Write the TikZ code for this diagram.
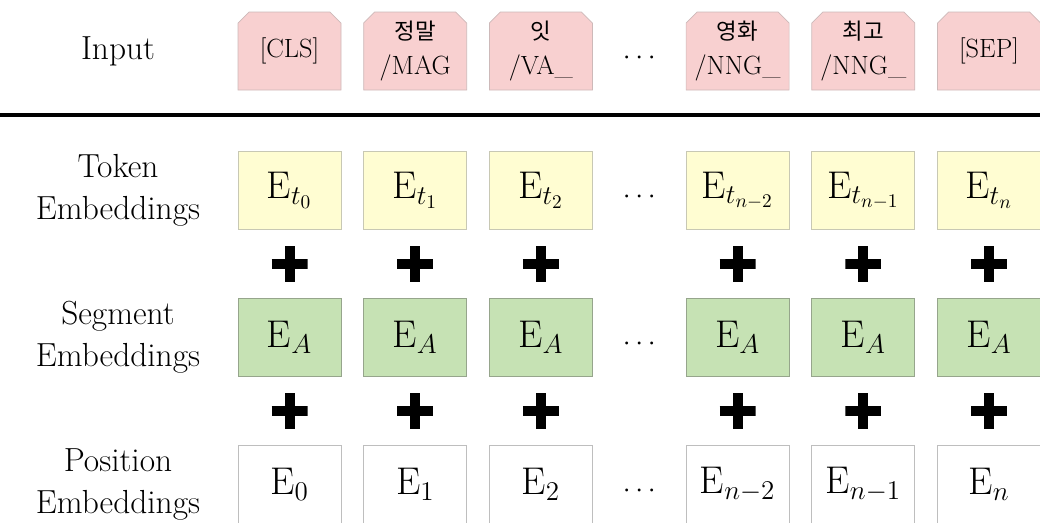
\documentclass[tikz,border=0pt]{standalone}
\usepackage{fix-cm}
\usepackage{fontspec}
\newfontfamily\kr{Noto Sans CJK KR}[Scale=0.85]
\usetikzlibrary{positioning,shapes.misc,calc}

\definecolor{inpink}{RGB}{248,208,208}
\definecolor{inline}{RGB}{205,185,185}
\definecolor{tokfill}{RGB}{255,253,210}
\definecolor{tokline}{RGB}{200,200,180}
\definecolor{segfill}{RGB}{198,226,180}
\definecolor{segline}{RGB}{150,165,140}
\definecolor{posline}{RGB}{190,190,190}

\begin{document}
\begin{tikzpicture}[node distance=1.36cm and 0.44cm]

\tikzset{
  emb/.style={
    rectangle, draw,
    minimum width=2.06cm, minimum height=1.56cm,
    inner sep=0pt, font=\fontsize{22}{26}\selectfont
  },
  tokbox/.style={emb, fill=tokfill, draw=tokline},
  segbox/.style={emb, fill=segfill, draw=segline},
  posbox/.style={emb, fill=white, draw=posline},
  inbox/.style={
    chamfered rectangle, chamfered rectangle corners={north west,north east},
    chamfered rectangle xsep=0.1cm, chamfered rectangle ysep=0.12cm,
    fill=inpink, draw=inline, align=center,
    minimum width=2.06cm, minimum height=1.56cm,
    inner sep=0pt, font=\fontsize{15}{20}\selectfont
  },
  rowlabel/.style={align=center, font=\fontsize{19}{24}\selectfont},
  dotsnode/.style={font=\fontsize{16}{18}\selectfont, yshift=-0.14cm},
  plus/.style={
    minimum size=0.72cm, inner sep=0pt,
    path picture={
      \draw[line width=0.2cm] (path picture bounding box.north) -- (path picture bounding box.south);
      \draw[line width=0.2cm] (path picture bounding box.west) -- (path picture bounding box.east);
    }
  },
  rule/.style={line width=2.8pt}
}

\useasboundingbox (0,0) rectangle (20.8,-10.44);

% =========================================================
% Input tokens
% =========================================================
\node[inbox] (in0) at (5.79,-1.02) {[CLS]};
\node[inbox, right=of in0] (in1) {{\kr 정말}\\/MAG};
\node[inbox, right=of in1] (in2) {{\kr 잇}\\/VA\_};
\node[inbox, right=1.86cm of in2] (in4) {{\kr 영화}\\/NNG\_};
\node[inbox, right=of in4] (in5) {{\kr 최고}\\/NNG\_};
\node[inbox, right=of in5] (in6) {[SEP]};
\node[dotsnode] (din) at ($(in2.east)!0.5!(in4.west)$) {$\cdots$};

\draw[rule] (0,-2.3) -- (20.8,-2.3);

% =========================================================
% Token embeddings
% =========================================================
\node[tokbox, below=1.22cm of in0] (tok0) {$\mathrm{E}_{t_0}$};
\node[tokbox, right=of tok0] (tok1) {$\mathrm{E}_{t_1}$};
\node[tokbox, right=of tok1] (tok2) {$\mathrm{E}_{t_2}$};
\node[tokbox, right=1.86cm of tok2] (tok4) {$\mathrm{E}_{t_{n-2}}$};
\node[tokbox, right=of tok4] (tok5) {$\mathrm{E}_{t_{n-1}}$};
\node[tokbox, right=of tok5] (tok6) {$\mathrm{E}_{t_n}$};
\node[dotsnode] (dtok) at ($(tok2.east)!0.5!(tok4.west)$) {$\cdots$};

% =========================================================
% Segment embeddings
% =========================================================
\node[segbox, below=of tok0] (seg0) {$\mathrm{E}_{A}$};
\node[segbox, below=of tok1] (seg1) {$\mathrm{E}_{A}$};
\node[segbox, below=of tok2] (seg2) {$\mathrm{E}_{A}$};
\node[segbox, below=of tok4] (seg4) {$\mathrm{E}_{A}$};
\node[segbox, below=of tok5] (seg5) {$\mathrm{E}_{A}$};
\node[segbox, below=of tok6] (seg6) {$\mathrm{E}_{A}$};
\node[dotsnode] (dseg) at ($(seg2.east)!0.5!(seg4.west)$) {$\cdots$};

% =========================================================
% Position embeddings
% =========================================================
\node[posbox, below=of seg0] (pos0) {$\mathrm{E}_{0}$};
\node[posbox, below=of seg1] (pos1) {$\mathrm{E}_{1}$};
\node[posbox, below=of seg2] (pos2) {$\mathrm{E}_{2}$};
\node[posbox, below=of seg4] (pos4) {$\mathrm{E}_{n-2}$};
\node[posbox, below=of seg5] (pos5) {$\mathrm{E}_{n-1}$};
\node[posbox, below=of seg6] (pos6) {$\mathrm{E}_{n}$};
\node[dotsnode] (dpos) at ($(pos2.east)!0.5!(pos4.west)$) {$\cdots$};

% =========================================================
% Plus signs between the rows
% =========================================================
\node[plus, below=0.32cm of tok0] (pa0) {};
\node[plus, below=0.32cm of tok1] (pa1) {};
\node[plus, below=0.32cm of tok2] (pa2) {};
\node[plus, below=0.32cm of tok4] (pa4) {};
\node[plus, below=0.32cm of tok5] (pa5) {};
\node[plus, below=0.32cm of tok6] (pa6) {};

\node[plus, below=0.32cm of seg0] (pb0) {};
\node[plus, below=0.32cm of seg1] (pb1) {};
\node[plus, below=0.32cm of seg2] (pb2) {};
\node[plus, below=0.32cm of seg4] (pb4) {};
\node[plus, below=0.32cm of seg5] (pb5) {};
\node[plus, below=0.32cm of seg6] (pb6) {};

% =========================================================
% Row labels
% =========================================================
\coordinate (lblx) at (2.36,0);
\node[rowlabel] (linput) at (lblx |- in0) {Input};
\node[rowlabel] (ltok) at (lblx |- tok0) {Token\\Embeddings};
\node[rowlabel] (lseg) at (lblx |- seg0) {Segment\\Embeddings};
\node[rowlabel] (lpos) at (lblx |- pos0) {Position\\Embeddings};

\end{tikzpicture}
\end{document}
